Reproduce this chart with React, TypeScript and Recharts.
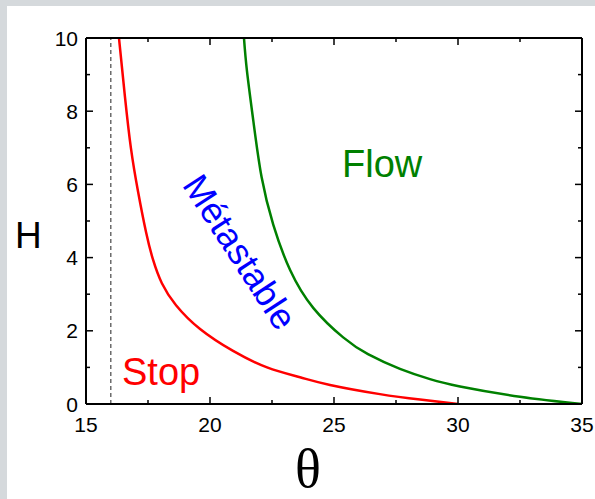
import { Line, LineChart, ReferenceLine, XAxis, YAxis } from 'recharts'

// Stop (h_stop) and Flow (h_start) boundaries: [theta (deg), H]
const stopTheta = [16.33, 16.57, 16.81, 17.1, 17.42, 17.7, 18.06, 18.63, 19.6, 20.93, 22.3, 23.63, 24.84, 26.85, 28.47, 30]
const stopH = [10, 8.4, 7.0, 5.8, 4.7, 3.95, 3.3, 2.7, 2.05, 1.45, 1.0, 0.73, 0.52, 0.27, 0.12, 0]

const flowTheta = [21.37, 21.49, 21.75, 22.08, 22.55, 23.23, 24.17, 25.37, 26.37, 27.66, 28.87, 30.08, 32.5, 35]
const flowH = [10, 9.1, 7.72, 6.2, 4.9, 3.66, 2.62, 1.82, 1.36, 0.96, 0.68, 0.48, 0.2, 0]

const thetaTicks = [15, 17.5, 20, 22.5, 25, 27.5, 30, 32.5, 35]
const hTicks = [0, 1, 2, 3, 4, 5, 6, 7, 8, 9, 10]
const dashedTheta = 16

const stopData = stopTheta.map((t, i) => ({ theta: t, H: stopH[i] }))
const flowData = flowTheta.map((t, i) => ({ theta: t, H: flowH[i] }))

const FONT = '"Liberation Sans", Arial, Helvetica, sans-serif'
const MAJOR = 7
const MINOR = 4

type TickProps = { x: number; y: number; payload: { value: number } }

function BottomTick({ x, y, payload }: TickProps) {
  const major = payload.value % 5 === 0
  return (
    <g>
      <line x1={x} y1={y} x2={x} y2={y - (major ? MAJOR : MINOR)} stroke="#000" strokeWidth={1.5} />
      {major ? (
        <text x={x} y={y + 28} textAnchor="middle" fontFamily={FONT} fontSize={21} fill="#000">
          {payload.value}
        </text>
      ) : null}
    </g>
  )
}

function TopTick({ x, y, payload }: TickProps) {
  const major = payload.value % 5 === 0
  return <line x1={x} y1={y} x2={x} y2={y + (major ? MAJOR : MINOR)} stroke="#000" strokeWidth={1.5} />
}

function LeftTick({ x, y, payload }: TickProps) {
  const major = payload.value % 2 === 0
  return (
    <g>
      <line x1={x} y1={y} x2={x + (major ? MAJOR : MINOR)} y2={y} stroke="#000" strokeWidth={1.5} />
      {major ? (
        <text x={x - 8} y={y + 7.5} textAnchor="end" fontFamily={FONT} fontSize={21} fill="#000">
          {payload.value}
        </text>
      ) : null}
    </g>
  )
}

function RightTick({ x, y, payload }: TickProps) {
  const major = payload.value % 2 === 0
  return <line x1={x} y1={y} x2={x - (major ? MAJOR : MINOR)} y2={y} stroke="#000" strokeWidth={1.5} />
}

const axisLine = { stroke: '#000', strokeWidth: 2 }

export default function App() {
  return (
    <div style={{ position: 'absolute', left: 0, top: 0, width: 595, height: 499, background: '#d5d9dc' }}>
      <div style={{ position: 'absolute', left: 7, top: 6, width: 588, height: 493, background: '#fff' }} />
      <div style={{ position: 'absolute', left: 0, top: 0 }}>
        <LineChart width={595} height={499} margin={{ top: 33, right: 8, bottom: 55, left: 46 }}>
          <XAxis
            xAxisId="b"
            type="number"
            dataKey="theta"
            domain={[15, 35]}
            ticks={thetaTicks}
            interval={0}
            allowDataOverflow
            height={40}
            tickSize={0}
            tickMargin={0}
            tickLine={false}
            axisLine={axisLine}
            tick={(p: any) => <BottomTick {...p} />}
          />
          <XAxis
            xAxisId="t"
            orientation="top"
            type="number"
            dataKey="theta"
            domain={[15, 35]}
            ticks={thetaTicks}
            interval={0}
            allowDataOverflow
            height={5}
            tickSize={0}
            tickMargin={0}
            tickLine={false}
            axisLine={axisLine}
            tick={(p: any) => <TopTick {...p} />}
          />
          <YAxis
            yAxisId="l"
            type="number"
            domain={[0, 10]}
            ticks={hTicks}
            interval={0}
            allowDataOverflow
            width={40}
            tickSize={0}
            tickMargin={0}
            tickLine={false}
            axisLine={axisLine}
            tick={(p: any) => <LeftTick {...p} />}
          />
          <YAxis
            yAxisId="r"
            orientation="right"
            type="number"
            domain={[0, 10]}
            ticks={hTicks}
            interval={0}
            allowDataOverflow
            width={5}
            tickSize={0}
            tickMargin={0}
            tickLine={false}
            axisLine={axisLine}
            tick={(p: any) => <RightTick {...p} />}
          />
          <ReferenceLine
            xAxisId="b"
            yAxisId="l"
            x={dashedTheta}
            stroke="#555"
            strokeWidth={1.3}
            strokeDasharray="4 3"
          />
          <Line
            xAxisId="b"
            yAxisId="l"
            data={stopData}
            dataKey="H"
            type="natural"
            stroke="#ff0000"
            strokeWidth={2.5}
            dot={false}
            isAnimationActive={false}
          />
          <Line
            xAxisId="b"
            yAxisId="l"
            data={flowData}
            dataKey="H"
            type="natural"
            stroke="#008000"
            strokeWidth={2.5}
            dot={false}
            isAnimationActive={false}
          />
        </LineChart>
      </div>
      <svg
        width={595}
        height={499}
        style={{ position: 'absolute', left: 0, top: 0, pointerEvents: 'none' }}
      >
        <text x={15} y={248} fontFamily={FONT} fontSize={37} fill="#000">
          H
        </text>
        <text x={308} y={487} textAnchor="middle" fontFamily='"Liberation Serif", "Times New Roman", serif' fontSize={54} fill="#000">
          θ
        </text>
        <text x={122} y={385} fontFamily={FONT} fontSize={38} fill="#ff0000">
          Stop
        </text>
        <text x={342} y={177} fontFamily={FONT} fontSize={38} fill="#008000">
          Flow
        </text>
        <text
          x={240}
          y={252}
          textAnchor="middle"
          dominantBaseline="central"
          transform="rotate(57 240 252)"
          fontFamily={FONT}
          fontSize={36}
          fill="#0000ff"
        >
          Métastable
        </text>
      </svg>
    </div>
  )
}
